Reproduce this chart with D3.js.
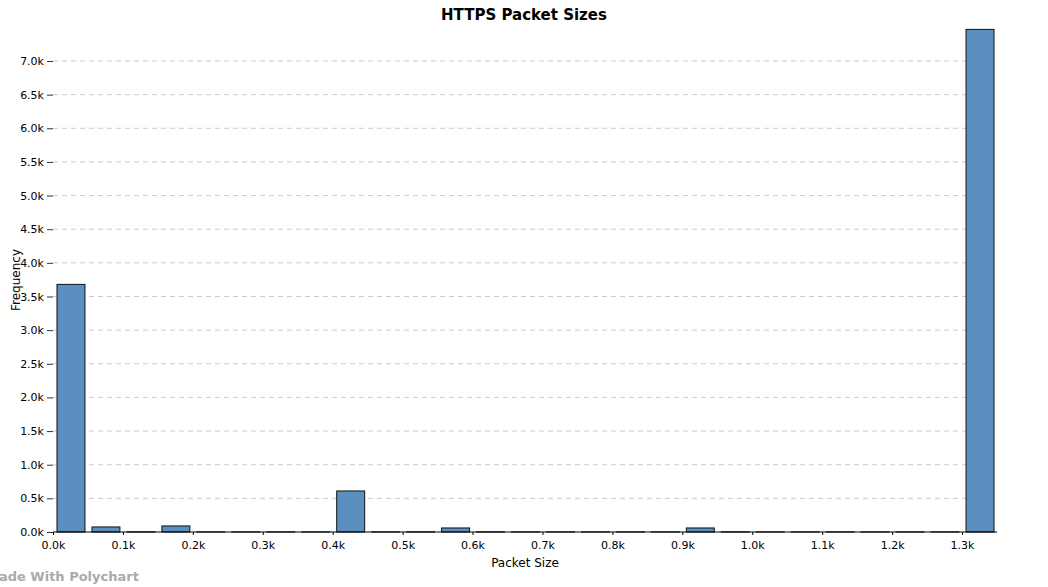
<!DOCTYPE html>
<html>
<head>
<meta charset="utf-8">
<script src="https://cdn.jsdelivr.net/npm/d3@7"></script>
<style>
body { margin: 0; background: #fff; }
text { font-family: "DejaVu Sans", sans-serif; }
</style>
</head>
<body>
<svg id="chart" width="1048" height="587"></svg>
<script>
// bin start values (width 50) and counts
var binStarts = [0, 50, 100, 150, 200, 250, 300, 350, 400, 450, 500, 550, 600, 650,
                 700, 750, 800, 850, 900, 950, 1000, 1050, 1100, 1150, 1200, 1250, 1300];
var counts = [3680, 75, 3, 90, 2, 2, 2, 2, 610, 2, 3, 60, 3, 2,
              2, 2, 2, 2, 60, 3, 2, 2, 2, 2, 2, 2, 7470];
var binWidth = 50;
var yTicks = [0, 500, 1000, 1500, 2000, 2500, 3000, 3500, 4000, 4500, 5000, 5500, 6000, 6500, 7000];
var xTicks = [0, 100, 200, 300, 400, 500, 600, 700, 800, 900, 1000, 1100, 1200, 1300];

var svg = d3.select("#chart");
var left = 53, right = 997, top = 23, bottom = 532;

var x = d3.scaleLinear().domain([0, 1350]).range([left, right]);
var y = d3.scaleLinear().domain([0, 7000]).range([bottom, 61]);

// gridlines
svg.append("g").selectAll("line").data(yTicks.slice(1)).enter().append("line")
  .attr("x1", left).attr("x2", right)
  .attr("y1", d => y(d)).attr("y2", d => y(d))
  .attr("stroke", "#ccc").attr("stroke-dasharray", "5,4");

// bars
svg.append("g").selectAll("rect").data(binStarts).enter().append("rect")
  .attr("x", (d) => x(d) + 4)
  .attr("width", x(binWidth) - x(0) - 7)
  .attr("y", (d, i) => y(counts[i]))
  .attr("height", (d, i) => bottom - y(counts[i]))
  .attr("fill", "#5a8fbf").attr("stroke", "#111").attr("stroke-width", 1);

var fmt = d => (d / 1000).toFixed(1) + "k";

var yAxis = svg.append("g").attr("transform", "translate(" + left + ",0)")
  .call(d3.axisLeft(y).tickValues(yTicks).tickFormat(fmt).tickSize(6).tickPadding(3));
yAxis.select(".domain").remove();
yAxis.selectAll("line").attr("stroke", "#333");

var xAxis = svg.append("g").attr("transform", "translate(0," + bottom + ")")
  .call(d3.axisBottom(x).tickValues(xTicks).tickFormat(fmt).tickSize(3).tickPadding(6));
xAxis.select(".domain").attr("d", "M" + left + ",0H" + right).attr("stroke", "#000");
svg.selectAll(".tick text").attr("font-size", 11).attr("fill", "#000")
  .style("font-family", "DejaVu Sans, sans-serif");

svg.append("text").attr("x", 524).attr("y", 20).attr("text-anchor", "middle")
  .attr("font-size", 15).attr("font-weight", "bold").text("HTTPS Packet Sizes");
svg.append("text").attr("x", 525).attr("y", 567).attr("text-anchor", "middle")
  .attr("font-size", 12).text("Packet Size");
svg.append("text").attr("transform", "translate(20,280) rotate(-90)")
  .attr("text-anchor", "middle").attr("font-size", 12).text("Frequency");
svg.append("text").attr("x", -14).attr("y", 581).attr("font-size", 13)
  .attr("font-weight", "bold").attr("fill", "#aaa").text("Made With Polychart");
</script>
</body>
</html>
